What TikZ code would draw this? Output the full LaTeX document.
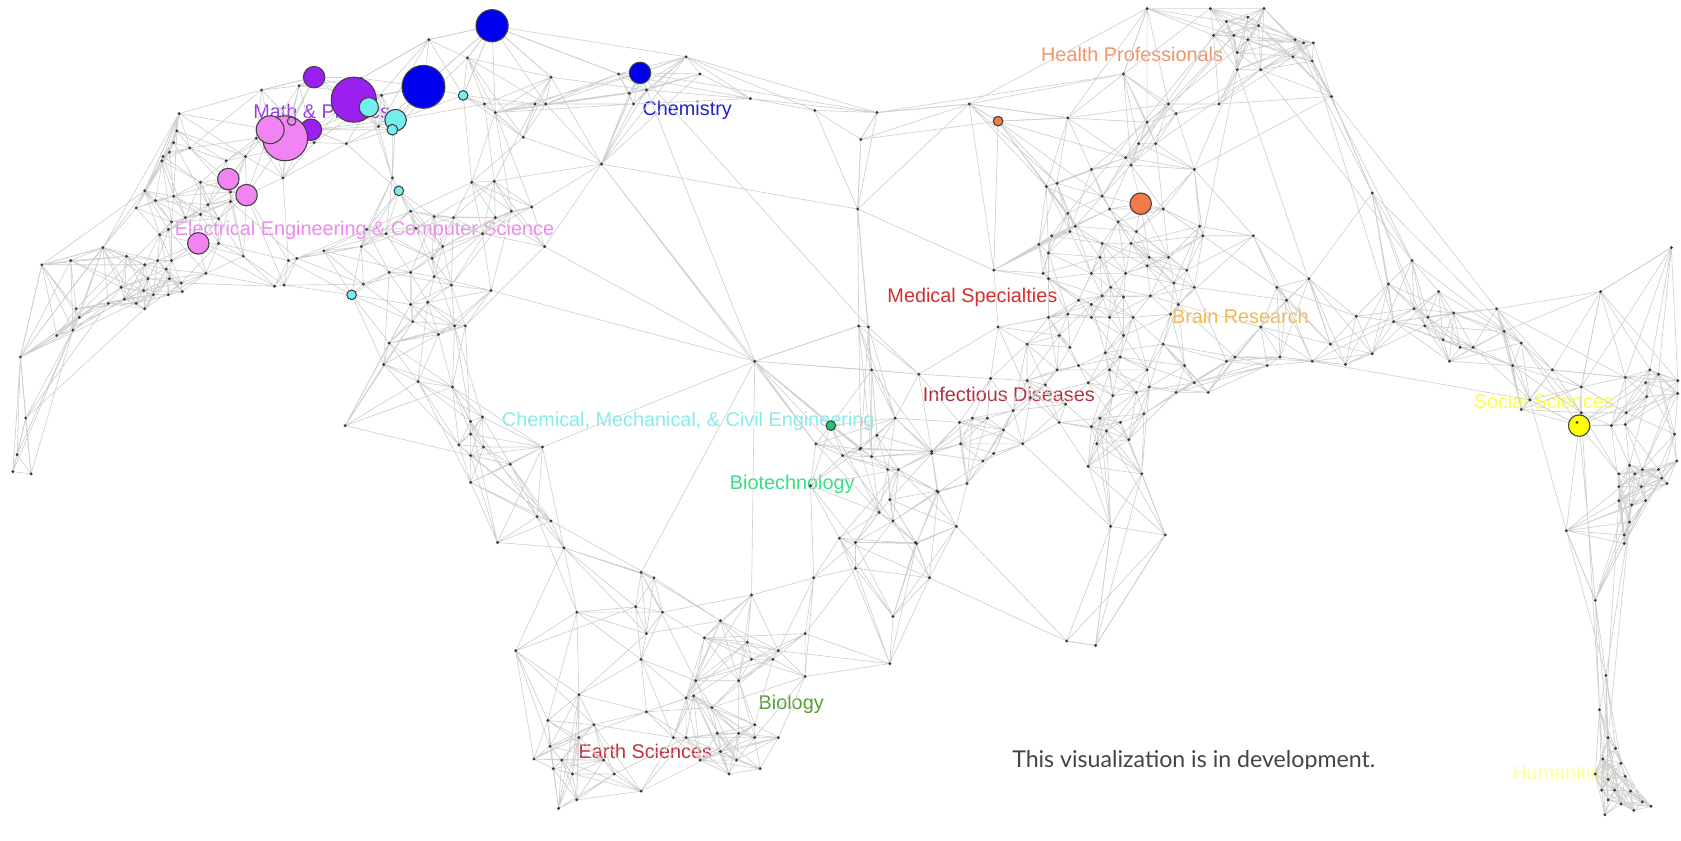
\documentclass[tikz,border=0pt]{standalone}
\usepackage{fontspec}
\setmainfont{Liberation Sans}
\newfontfamily\latofont{Lato}
\definecolor{edgegray}{HTML}{D0D0D0}
\definecolor{dotc}{HTML}{3A3A3A}
\definecolor{cBlue}{HTML}{0000EE}
\definecolor{cPurple}{HTML}{9B1FEF}
\definecolor{cPink}{HTML}{F283F2}
\definecolor{cCyan}{HTML}{72F0EE}
\definecolor{cOrange}{HTML}{F47A4A}
\definecolor{cGreen}{HTML}{22C46C}
\definecolor{cYellow}{HTML}{FFFF00}
\definecolor{tMath}{HTML}{9A3AEA}
\definecolor{tChem}{HTML}{2222CC}
\definecolor{tEE}{HTML}{EE88EE}
\definecolor{tHealth}{HTML}{F0946C}
\definecolor{tMed}{HTML}{D22F2F}
\definecolor{tBrain}{HTML}{F2B84C}
\definecolor{tInf}{HTML}{B2303C}
\definecolor{tCME}{HTML}{86ECEC}
\definecolor{tBiotech}{HTML}{36DE84}
\definecolor{tBio}{HTML}{58A036}
\definecolor{tEarth}{HTML}{C4303F}
\definecolor{tSoc}{HTML}{FFFF40}
\definecolor{tHum}{HTML}{FFFF99}
\definecolor{devgray}{HTML}{444444}

% ---------- point store ----------
\newcount\NP \NP=0
\def\coordlist{}\def\dotlist{}\def\namelist{}
\def\Pt(#1,#2){\global\advance\NP by 1
 \expandafter\xdef\csname px\the\NP\endcsname{#1}%
 \expandafter\xdef\csname py\the\NP\endcsname{#2}%
 \xdef\coordlist{\unexpanded\expandafter{\coordlist}\noexpand\coordinate (p\the\NP) at (#1,#2);}%
 \xdef\dotlist{\dotlist (p\the\NP) circle (1.5pt)}}
\def\Pn#1(#2,#3){\Pt(#2,#3)\xdef\namelist{\unexpanded\expandafter{\namelist}\noexpand\coordinate (#1) at (p\the\NP);}}

% coloured bubbles
\Pn{blueA}(459,24) \Pn{blueB}(395,81) \Pn{blueC}(597,68) \Pn{purA}(330,93) \Pn{purB}(293,72)
\Pn{purC}(290,121) \Pn{pinkA}(266,129) \Pn{pinkB}(252,121) \Pn{pinkF}(272,113) \Pn{cyA}(344,100)
\Pn{cyB}(369,112) \Pn{cyC}(366,121) \Pn{cyD}(432,89) \Pn{cyE}(372,178) \Pn{cyF}(328,275)
\Pn{pinkC}(213,167) \Pn{pinkD}(230,182) \Pn{pinkE}(185,227) \Pn{orA}(931,113) \Pn{orB}(1064,190)
\Pn{grA}(775,397) \Pn{yeA}(1473,397)
% top-left cluster
\Pn{tlA}(400,37) \Pn{tlB}(436,54) \Pn{tlC}(514,72) \Pn{tlD}(577,69) \Pn{tlE}(640,53) \Pn{tlF}(561,153)
\Pn{tlG}(167,106) \Pn{tlH}(244,84) \Pn{tlI}(337,73) \Pn{tlJ}(488,128)
\Pt(653,69) \Pt(587,87) \Pt(603,84) \Pt(591,97) \Pt(452,97) \Pt(462,105) \Pt(499,97) \Pt(509,97)
\Pt(279,80) \Pt(356,89) \Pt(353,118) \Pt(239,129) \Pt(293,133) \Pt(323,134) \Pt(366,166) \Pt(440,170)
\Pt(337,230) \Pt(339,265) \Pt(363,254) \Pt(383,254) \Pt(403,241) \Pt(405,258) \Pt(413,230) \Pt(421,266)
\Pn{tlK}(458,271) \Pn{tlL}(508,230) \Pt(399,282) \Pt(383,197) \Pt(405,202) \Pt(423,203) \Pt(462,203)
\Pt(477,197) \Pt(496,193) \Pt(461,169) \Pt(342,214) \Pt(360,218) \Pt(388,213) \Pt(450,218)
\Pt(302,234) \Pt(277,241) \Pt(265,266)
% left cluster and tail
\Pt(165,122) \Pt(162,133) \Pt(177,138) \Pt(158,142) \Pt(152,146) \Pt(151,150) \Pt(211,150) \Pt(229,146)
\Pt(264,166) \Pt(187,170) \Pn{ltJ}(135,178) \Pt(162,183) \Pt(145,187) \Pt(215,179) \Pt(215,188) \Pt(127,194)
\Pt(194,191) \Pt(173,203) \Pt(187,200) \Pt(204,204) \Pn{ltH}(160,207) \Pt(149,219) \Pt(157,214) \Pt(204,227)
\Pn{ltI}(96,231) \Pt(118,239) \Pt(135,247) \Pt(147,243) \Pt(160,243) \Pt(155,251) \Pt(158,260) \Pt(169,264)
\Pt(192,255) \Pn{ltE}(39,247) \Pt(66,243) \Pt(227,239) \Pt(269,243) \Pt(138,260) \Pt(113,268) \Pt(134,271)
\Pn{ltG}(143,275) \Pt(157,275) \Pt(170,272) \Pt(101,283) \Pt(116,279) \Pt(127,283) \Pt(135,288) \Pt(256,267)
\Pt(71,288) \Pt(74,296) \Pn{ltD}(53,313) \Pt(68,308) \Pn{ltA}(19,333) \Pn{ltF}(24,390) \Pt(16,424)
\Pn{ltB}(12,440) \Pn{ltC}(29,442)
% left branch
\Pt(383,284) \Pt(385,300) \Pt(409,312) \Pt(424,304) \Pt(434,304) \Pt(363,320) \Pt(358,340) \Pt(390,356)
\Pt(422,361) \Pt(450,389) \Pt(439,393) \Pt(439,405) \Pt(428,415) \Pt(451,417) \Pt(439,425) \Pt(439,450)
\Pn{lbA}(506,417) \Pt(476,433) \Pt(501,482) \Pt(514,486) \Pt(464,506) \Pt(526,511) \Pn{eA}(598,534) \Pn{eB}(610,539)
\Pt(538,571) \Pt(593,566) \Pt(618,571) \Pt(672,579) \Pt(603,591) \Pt(657,595) \Pn{eC}(481,607) \Pt(598,615)
\Pn{hubD}(701,555) \Pt(697,599) \Pt(726,607) \Pt(701,615) \Pt(721,615) \Pt(751,591) \Pt(751,631) \Pt(689,635)
\Pt(649,635) \Pt(640,651) \Pt(664,660) \Pt(540,648) \Pt(603,664) \Pt(511,672) \Pt(554,676) \Pt(704,676)
\Pt(669,684) \Pt(689,684) \Pt(704,688) \Pt(726,688) \Pt(628,688) \Pt(640,688) \Pt(540,688) \Pt(513,696)
\Pt(322,397) \Pt(647,649)
% earth sciences
\Pt(498,708) \Pt(524,709) \Pt(563,709) \Pt(653,709) \Pt(672,701) \Pt(687,709) \Pt(516,717) \Pt(534,722)
\Pt(573,722) \Pt(680,722) \Pt(709,717) \Pt(598,738) \Pt(538,746) \Pt(521,754)
% centre-left rising branch
\Pn{hub}(704,337) \Pn{hubR}(801,304) \Pn{hubL}(761,414) \Pt(786,425) \Pt(803,418) \Pt(828,438) \Pt(838,438)
\Pt(869,421) \Pt(874,458) \Pt(830,466) \Pt(820,478) \Pt(833,486) \Pt(783,502) \Pt(798,506) \Pt(854,506)
\Pt(798,530) \Pt(759,539) \Pt(867,539) \Pt(833,575) \Pt(830,619) \Pt(756,453)
% top arc / centre
\Pn{cA}(818,105) \Pn{cB}(904,97) \Pn{cC}(996,110) \Pn{cD}(1090,97) \Pt(1097,106) \Pt(1137,97)
\Pn{cE}(803,130) \Pn{mB}(1070,114) \Pn{mA}(1062,134) \Pn{mF}(1078,134) \Pt(1050,147) \Pt(1055,154)
\Pt(1018,158) \Pn{mD}(1114,158) \Pn{mI}(976,174) \Pt(986,171) \Pn{mC}(1028,183) \Pt(1035,195) \Pt(1085,195)
\Pn{cF}(800,195) \Pn{mE}(996,199) \Pt(1043,207) \Pt(1003,211) \Pt(998,216) \Pt(1060,216) \Pt(1119,211)
\Pn{mG}(1122,220) \Pn{mH}(1169,220) \Pt(981,220) \Pt(969,228) \Pt(1028,227) \Pt(1055,227) \Pt(978,236)
\Pt(1026,240) \Pt(1072,240) \Pt(1090,240) \Pt(1070,248) \Pn{cH}(927,252) \Pt(973,255) \Pt(978,260)
\Pt(1018,255) \Pt(1050,255) \Pt(1107,252) \Pt(1095,264) \Pt(1114,268) \Pt(1036,268) \Pt(1006,280)
\Pt(1018,284) \Pt(1028,276) \Pt(1048,277) \Pt(1073,276) \Pt(1099,284) \Pt(1191,268) \Pt(1200,280)
\Pt(1221,260) \Pt(978,296) \Pt(996,293) \Pt(1018,296) \Pt(1035,296) \Pt(1057,296) \Pn{cI}(931,305)
\Pn{cG}(810,305) \Pt(1092,293) \Pt(1176,305) \Pt(988,313) \Pt(1048,313) \Pt(958,321) \Pt(1085,321)
\Pt(998,324) \Pt(1031,329) \Pt(1045,333) \Pn{rC}(1241,321) \Pt(986,345) \Pt(1006,341) \Pt(1035,345)
\Pt(1070,345) \Pt(1105,341) \Pt(1144,337) \Pt(1152,333) \Pt(1182,341) \Pt(1194,333) \Pn{rF}(1224,337)
\Pt(813,345) \Pt(857,349) \Pt(924,353) \Pt(958,355) \Pt(975,359) \Pt(1015,357) \Pt(1060,366) \Pt(1072,361)
\Pt(1097,366) \Pt(1114,357) \Pt(1127,366) \Pt(1038,369) \Pt(961,371) \Pt(994,377) \Pt(945,383) \Pt(1067,386)
\Pt(835,390) \Pt(895,394) \Pt(907,390) \Pt(921,390) \Pt(988,394) \Pt(1026,390) \Pt(1045,394) \Pt(936,401)
\Pt(1018,398) \Pt(1032,402) \Pt(818,406) \Pt(896,414) \Pt(954,414) \Pt(1023,414) \Pt(1053,410) \Pt(802,419)
\Pt(813,426) \Pt(869,423) \Pt(917,430) \Pt(927,423) \Pt(1015,435) \Pn{bE}(1065,442) \Pt(902,451) \Pt(875,459)
\Pn{bC}(892,491) \Pn{bB}(1036,491) \Pt(855,507) \Pn{bD}(1087,499) \Pn{bA}(995,598) \Pn{bF}(1022,602)
\Pt(700,92) \Pt(760,103)
% top-right cluster
\Pn{trA}(1070,8) \Pt(1129,8) \Pt(1179,8) \Pn{trE}(1144,20) \Pt(1164,16) \Pt(1174,24) \Pn{trD}(1132,33)
\Pn{trB}(1151,33) \Pn{trC}(1164,37) \Pn{trH}(1208,37) \Pt(1216,40) \Pt(1225,40) \Pt(1154,49) \Pt(1206,53)
\Pn{trI}(1224,57) \Pn{trF}(1154,65) \Pn{trG}(1176,65) \Pn{trJ}(1242,90) \Pn{trK}(1048,69)
% right band
\Pn{rA}(1280,180) \Pn{rG}(1317,243) \Pt(1295,265) \Pt(1265,295) \Pn{rB}(1300,300) \Pt(1280,330) \Pt(1255,340)
\Pt(1342,272) \Pt(1319,288) \Pt(1332,296) \Pt(1329,304) \Pt(1356,292) \Pn{rE}(1396,288) \Pt(1403,309)
\Pt(1346,317) \Pt(1362,324) \Pt(1374,324) \Pn{rD}(1419,320) \Pt(1352,337) \Pt(1411,341) \Pn{rK}(1448,345)
\Pn{sG}(1475,361) \Pn{rJ}(1427,373) \Pt(1419,382) \Pn{sB}(1475,385) \Pn{rH}(1493,272) \Pn{rI}(1559,231)
% social sciences cluster
\Pn{sA}(1516,352) \Pt(1539,345) \Pt(1547,349) \Pt(1535,357) \Pt(1565,355) \Pt(1565,367) \Pt(1536,370)
\Pt(1517,385) \Pt(1503,397) \Pt(1516,396) \Pt(1562,405) \Pt(1564,430) \Pt(1520,434) \Pt(1532,438)
\Pt(1547,438) \Pt(1510,442) \Pt(1525,442) \Pt(1550,446) \Pt(1555,451) \Pt(1510,454) \Pt(1531,454)
\Pn{sE}(1510,467) \Pt(1522,471) \Pt(1535,467) \Pn{sC}(1520,487) \Pt(1515,499) \Pt(1515,507) \Pn{sF}(1461,495)
% humanities
\Pn{hE}(1488,560) \Pn{hD}(1498,630) \Pn{hB}(1492,662) \Pn{hA}(1500,688) \Pt(1507,698) \Pn{hC}(1495,708)
\Pt(1512,712) \Pt(1488,722) \Pt(1500,727) \Pt(1516,724) \Pt(1494,737) \Pt(1506,737) \Pt(1521,738)
\Pt(1500,746) \Pt(1512,750) \Pt(1524,756) \Pt(1532,748) \Pt(1497,760) \Pt(1540,752)
\xdef\NPval{\the\NP}

% ---------- k nearest neighbours (14 slots) ----------
\newcount\ci \newcount\cj \newcount\tx \newcount\ty \newcount\dd \newcount\tmpc \newcount\tmpk
\newcount\cxi \newcount\cyi \newcount\sk \newcount\capd \capd=25600
\sk=0
\def\allocStep{\ifnum\sk<14 \advance\sk by 1
  \expandafter\newcount\csname dS\the\sk\endcsname
  \expandafter\newcount\csname jS\the\sk\endcsname
  \expandafter\allocStep\fi}
\allocStep
\expandafter\let\expandafter\dLast\csname dS14\endcsname
\expandafter\let\expandafter\jLast\csname jS14\endcsname
\def\initStep{\ifnum\sk<14 \advance\sk by 1
  \csname dS\the\sk\endcsname=100000000 \csname jS\the\sk\endcsname=0
  \expandafter\initStep\fi}
\def\bubbleUp{%
 \ifnum\sk>1
  \tmpk=\sk \advance\tmpk by -1
  \ifnum\csname dS\the\sk\endcsname<\csname dS\the\tmpk\endcsname
   \tmpc=\csname dS\the\sk\endcsname
   \csname dS\the\sk\endcsname=\csname dS\the\tmpk\endcsname
   \csname dS\the\tmpk\endcsname=\tmpc
   \tmpc=\csname jS\the\sk\endcsname
   \csname jS\the\sk\endcsname=\csname jS\the\tmpk\endcsname
   \csname jS\the\tmpk\endcsname=\tmpc
   \sk=\tmpk
  \else
   \sk=1
  \fi
  \expandafter\bubbleUp
 \fi}
\def\edgepath{}
\def\knnInner{%
 \ifnum\cj<\NP
  \advance\cj by 1
  \ifnum\cj=\ci\else
   \tx=\cxi \advance\tx by -\csname px\the\cj\endcsname\relax
   \ty=\cyi \advance\ty by -\csname py\the\cj\endcsname\relax
   \dd=\numexpr\tx*\tx+\ty*\ty\relax
   \ifnum\dd<\dLast
    \dLast=\dd \jLast=\cj \sk=14 \bubbleUp
   \fi
  \fi
  \expandafter\knnInner
 \fi}
\def\addedge#1#2{%
 \ifnum#1<#2 \edef\eaa{#1}\edef\ebb{#2}\else\edef\eaa{#2}\edef\ebb{#1}\fi
 \ifnum\eaa>0
 \expandafter\ifx\csname e@\eaa @\ebb\endcsname\relax
  \expandafter\gdef\csname e@\eaa @\ebb\endcsname{x}%
  \xdef\edgepath{\edgepath (p\eaa)--(p\ebb)}%
 \fi\fi}
\def\addRank#1{\addedge{\the\ci}{\number\csname jS#1\endcsname}}
\def\addCap#1{\ifnum\csname dS#1\endcsname<\capd \addRank{#1}\fi}
\def\knnOuter{%
 \ifnum\ci<\NP
  \advance\ci by 1
  \cxi=\csname px\the\ci\endcsname\relax
  \cyi=\csname py\the\ci\endcsname\relax
  \sk=0 \initStep
  \cj=0 \knnInner
  \addRank{1}\addRank{2}\addRank{3}\addRank{4}\addCap{6}\addCap{9}\addCap{13}%
  \expandafter\knnOuter
 \fi}
\ci=0 \knnOuter

\begin{document}
\begin{tikzpicture}[x=1pt,y=-1pt,
  lnk/.style={draw=edgegray,line width=0.6pt},
  lab/.style={font=\fontsize{18.5}{20}\selectfont,inner sep=0pt,anchor=base},
  bubble/.style={line width=1pt,draw=black!75}]
\useasboundingbox (0,0) rectangle (1568,784);
\fill[white] (0,0) rectangle (1568,784);
\coordlist
\namelist
% labels
\node[lab,text=tMath] (lMath) at (300,110.5) {Math \& Physics};
\node[lab,text=tChem] (lChem) at (641,107.5) {Chemistry};
\node[lab,text=tEE] (lEE) at (340,219.5) {Electrical Engineering \& Computer Science};
\node[lab,text=tHealth] (lHealth) at (1056,57.5) {Health Professionals};
\node[lab,text=tMed] (lMed) at (907,282.5) {Medical Specialties};
\node[lab,text=tBrain] (lBrain) at (1157,301.5) {Brain Research};
\node[lab,text=tInf] (lInf) at (941,374.5) {Infectious Diseases};
\node[lab,text=tCME] (lCME) at (642,397.5) {Chemical, Mechanical, \& Civil Engineering};
\node[lab,text=tBiotech] (lBiotech) at (739,456.5) {Biotechnology};
\node[lab,text=tBio] (lBio) at (738,661.5) {Biology};
\node[lab,text=tEarth] (lEarth) at (602,707.5) {Earth Sciences};
\node[lab,text=tSoc] (lSoc) at (1440,381.5) {Social Sciences};
\node[lab,text=tHum] (lHum) at (1457,727.5) {Humanities};
% edges
\edef\tmpdraw{\noexpand\path[lnk] \edgepath;}\tmpdraw
\path[lnk] (blueA)--(tlA) (blueA)--(tlB) (blueA)--(tlC) (blueA)--(tlD) (blueA)--(tlE) (blueA)--(blueB)
 (blueA)--(cyD) (tlA)--(tlI) (tlI)--(purB) (tlH)--(purB) (tlG)--(tlH) (tlG)--(pinkB)
 (blueC)--(tlD) (blueC)--(tlE) (blueC)--(cA) (blueC)--(tlF) (blueC)--(hub) (blueC)--(cG)
 (tlE)--(cA) (tlF)--(tlJ) (tlF)--(tlC) (tlF)--(hub) (tlF)--(hubL) (tlF)--(cF) (tlK)--(hub) (tlL)--(hub)
 (cA)--(cB) (cB)--(orA) (orA)--(cC) (cB)--(cC) (cC)--(cD) (cA)--(cE) (cE)--(cF) (cF)--(cG) (cG)--(hubR)
 (cB)--(cH) (orA)--(cH) (cB)--(trA) (cC)--(trA) (trK)--(trA) (cC)--(trK) (cA)--(trK)
 (ltA)--(ltE) (ltA)--(ltD) (ltA)--(ltF) (ltF)--(ltB) (ltF)--(ltC) (ltA)--(ltI) (ltA)--(ltJ) (ltA)--(ltG)
 (ltE)--(ltJ) (ltE)--(ltI) (ltD)--(ltH) (ltI)--(tlG) (ltJ)--(tlG)
 (hub)--(hubR) (hub)--(hubL) (hub)--(hubD) (hub)--(grA) (hub)--(eA) (hub)--(lbA)
 (mA)--(trB) (mB)--(trC) (mC)--(trD) (mD)--(trF) (mE)--(trE) (mF)--(trG) (mG)--(trF) (mG)--(mH) (mD)--(trJ)
 (trH)--(rA) (trI)--(rB) (trJ)--(rE) (trG)--(rG) (trF)--(rC) (trJ)--(rA) (rA)--(rD) (rA)--(rB) (rG)--(rD)
 (trI)--(rG) (rD)--(yeA) (rF)--(rJ) (rE)--(sA) (rE)--(rH) (rH)--(rI) (rH)--(sG) (rJ)--(yeA) (rK)--(sA)
 (rJ)--(sF) (yeA)--(sF) (sF)--(hD) (sF)--(hE) (yeA)--(hA) (sB)--(hB) (sC)--(hA) (hE)--(hB) (sE)--(hC)
 (yeA)--(hE) (sC)--(hD)
 (bB)--(bF) (bC)--(bA) (bD)--(bF) (bA)--(bF) (bE)--(bD);
% dots
\edef\tmpdots{\noexpand\fill[dotc] \dotlist;}\tmpdots
% bubbles
\draw[bubble,fill=cBlue] (blueA) circle (15pt);
\draw[bubble,fill=cBlue] (blueB) circle (20pt);
\draw[bubble,fill=cBlue] (blueC) circle (10pt);
\draw[bubble,fill=cPurple] (purB) circle (10pt);
\draw[bubble,fill=cPurple] (purA) circle (21pt);
\draw[bubble,fill=cPurple] (purC) circle (10pt);
\draw[bubble,fill=cPink] (pinkA) circle (21pt);
\draw[bubble,fill=cPink] (pinkB) circle (13pt);
\draw[bubble,fill=cPink] (pinkF) circle (4pt);
\draw[bubble,fill=cCyan] (cyA) circle (9pt);
\draw[bubble,fill=cCyan] (cyB) circle (10pt);
\draw[bubble,fill=cCyan] (cyC) circle (5pt);
\draw[bubble,fill=cCyan] (cyD) circle (4.5pt);
\draw[bubble,fill=cCyan] (cyE) circle (4.5pt);
\draw[bubble,fill=cCyan] (cyF) circle (4.5pt);
\draw[bubble,fill=cPink] (pinkC) circle (10pt);
\draw[bubble,fill=cPink] (pinkD) circle (10pt);
\draw[bubble,fill=cPink] (pinkE) circle (10pt);
\draw[bubble,fill=cOrange] (orA) circle (4.5pt);
\draw[bubble,fill=cOrange] (orB) circle (10pt);
\draw[bubble,fill=cGreen] (grA) circle (4.5pt);
\draw[bubble,fill=cYellow] (yeA) circle (10pt);
\fill[dotc] (yeA) ++(-2,-3) circle (1.5pt);
% note
\begin{scope}
\clip (900,680) rectangle (1330,716.8);
\node[anchor=base west,inner sep=0pt,text=devgray,font=\latofont\fontsize{21.6}{24}\selectfont] (dev) at (944,716) {This visualization is in development.};
\end{scope}
\end{tikzpicture}
\end{document}
